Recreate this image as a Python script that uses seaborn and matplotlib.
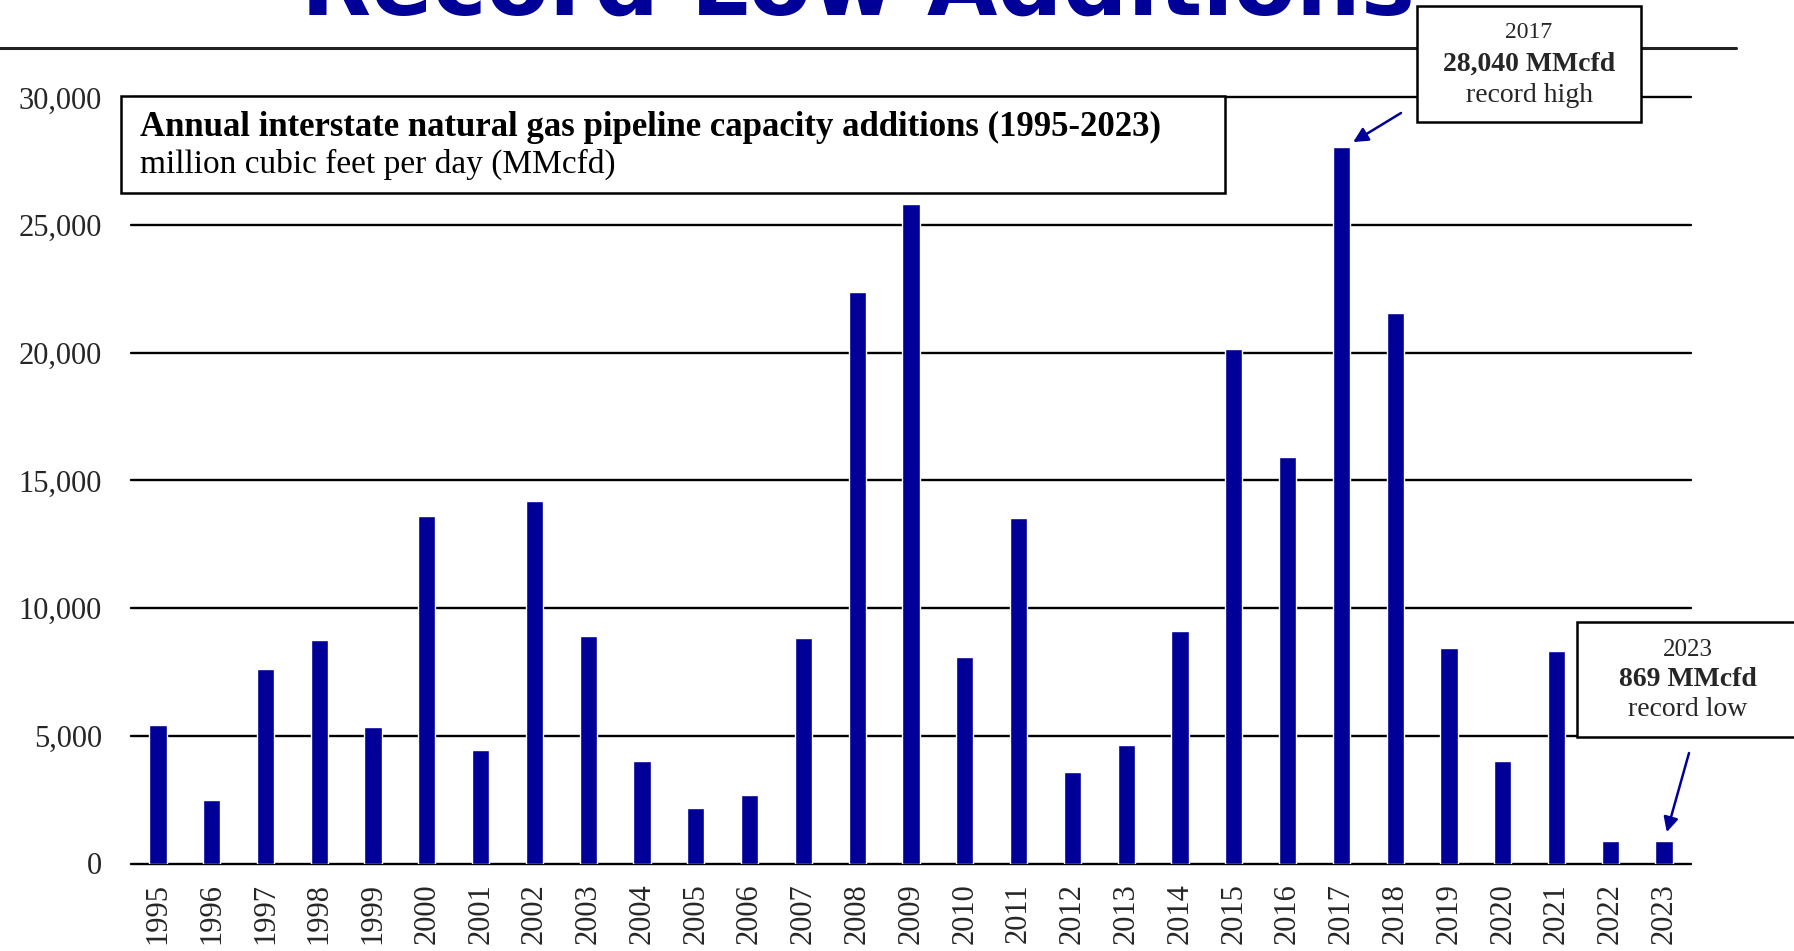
import matplotlib
matplotlib.use("Agg")
import matplotlib.pyplot as plt
import seaborn as sns
import pandas as pd
from matplotlib.patches import Rectangle
from matplotlib.lines import Line2D

# ---- data ----
years = ["1995", "1996", "1997", "1998", "1999", "2000", "2001", "2002", "2003",
         "2004", "2005", "2006", "2007", "2008", "2009", "2010", "2011", "2012",
         "2013", "2014", "2015", "2016", "2017", "2018", "2019", "2020", "2021",
         "2022", "2023"]
capacity = [5420, 2475, 7610, 8740, 5350, 13590, 4430, 14180, 8920,
            4030, 2190, 2700, 8840, 22380, 25840, 8070, 13510, 3590,
            4650, 9100, 20140, 15920, 28040, 21570, 8420, 4020, 8340,
            890, 869]
y_ticks = [0, 5000, 10000, 15000, 20000, 25000, 30000]
y_labels = ["0", "5,000", "10,000", "15,000", "20,000", "25,000", "30,000"]

title = "Record Low Additions"
box_title = "Annual interstate natural gas pipeline capacity additions (1995-2023)"
box_sub = "million cubic feet per day (MMcfd)"
high_lines = ["2017", "28,040 MMcfd", "record high"]
low_lines = ["2023", "869 MMcfd", "record low"]

df = pd.DataFrame({"year": years, "capacity": capacity})

# ---- style ----
sns.set_theme(style="white")
plt.rcParams["font.family"] = ["Liberation Serif", "DejaVu Serif"]

W, H = 1794, 951
BLUE = "#000099"
fig = plt.figure(figsize=(W / 100, H / 100), dpi=100)
fig.patch.set_facecolor("white")

def fx(px):
    return px / W

def fy(py):
    return 1 - py / H

ax = fig.add_axes([fx(131), fy(863.5), (1691 - 131) / W, (863.5 - 97.4) / H])
sns.barplot(data=df, x="year", y="capacity", color=BLUE, saturation=1,
            width=0.32, ax=ax, zorder=3)

ax.set_ylim(0, 30000)
ax.set_xlim(-0.5, len(years) - 0.5)
ax.set_yticks(y_ticks)
ax.set_yticklabels(y_labels, fontsize=22)
ax.set_xticks(range(len(years)))
ax.set_xticklabels(years, rotation=90, fontsize=22)
ax.tick_params(axis="y", length=0, pad=21)
ax.tick_params(axis="x", length=0, pad=14)
ax.set_xlabel("")
ax.set_ylabel("")
for s in ax.spines.values():
    s.set_visible(False)
ax.yaxis.grid(True, color="black", lw=1.7)
ax.xaxis.grid(False)
ax.set_axisbelow(True)
for gl in ax.yaxis.get_gridlines():
    gl.set_clip_on(False)
ax.set_facecolor("none")

# ---- title (cut off at top, as in the source slide) ----
fig.text(fx(858), fy(15), title, ha="center", va="baseline", fontsize=65.5,
         fontweight="bold", color=BLUE, family=["DejaVu Sans"])
fig.add_artist(Line2D([0, fx(1736)], [fy(48), fy(48)], transform=fig.transFigure,
                      color="#222222", lw=2.2, zorder=1))

# ---- main box ----
fig.add_artist(Rectangle((fx(120.5), fy(192.5)), (1225 - 120.5) / W, (192.5 - 96.5) / H,
                         transform=fig.transFigure, facecolor="white",
                         edgecolor="black", lw=1.8, zorder=5))
fig.text(fx(140), fy(127), box_title, ha="left", va="center", fontsize=25,
         fontweight="bold", color="black", zorder=6)
fig.text(fx(140), fy(164), box_sub, ha="left", va="center", fontsize=24,
         color="black", zorder=6)

# ---- record high box ----
fig.add_artist(Rectangle((fx(1416.7), fy(122)), (1641.3 - 1416.7) / W, (122 - 5.7) / H,
                         transform=fig.transFigure, facecolor="white",
                         edgecolor="black", lw=1.8, zorder=5))
cx = fx(1529)
fig.text(cx, fy(32), high_lines[0], ha="center", va="center", fontsize=17, zorder=6)
fig.text(cx, fy(64), high_lines[1], ha="center", va="center", fontsize=20,
         fontweight="bold", zorder=6)
fig.text(cx, fy(95), high_lines[2], ha="center", va="center", fontsize=20, zorder=6)

# ---- record low box ----
fig.add_artist(Rectangle((fx(1577), fy(737)), (1810 - 1577) / W, (737 - 622) / H,
                         transform=fig.transFigure, facecolor="white",
                         edgecolor="black", lw=1.8, zorder=5, clip_on=False))
cx2 = fx(1688)
fig.text(cx2, fy(650), low_lines[0], ha="center", va="center", fontsize=18, zorder=6)
fig.text(cx2, fy(680), low_lines[1], ha="center", va="center", fontsize=20,
         fontweight="bold", zorder=6)
fig.text(cx2, fy(710), low_lines[2], ha="center", va="center", fontsize=20, zorder=6)

# ---- arrows ----
i_hi = years.index("2017")
i_lo = years.index("2023")
ax.annotate("", xy=(i_hi + 0.22, capacity[i_hi] + 210), xycoords="data",
            xytext=(fx(1401), fy(113)), textcoords="figure fraction",
            arrowprops=dict(arrowstyle="-|>", color=BLUE, lw=1.8,
                            mutation_scale=22, shrinkA=0, shrinkB=0),
            annotation_clip=False, zorder=7)
ax.annotate("", xy=(i_lo + 0.05, capacity[i_lo] + 360), xycoords="data",
            xytext=(fx(1689), fy(753)), textcoords="figure fraction",
            arrowprops=dict(arrowstyle="-|>", color=BLUE, lw=1.8,
                            mutation_scale=22, shrinkA=0, shrinkB=0),
            annotation_clip=False, zorder=7)

fig.savefig("out.png", dpi=100)
